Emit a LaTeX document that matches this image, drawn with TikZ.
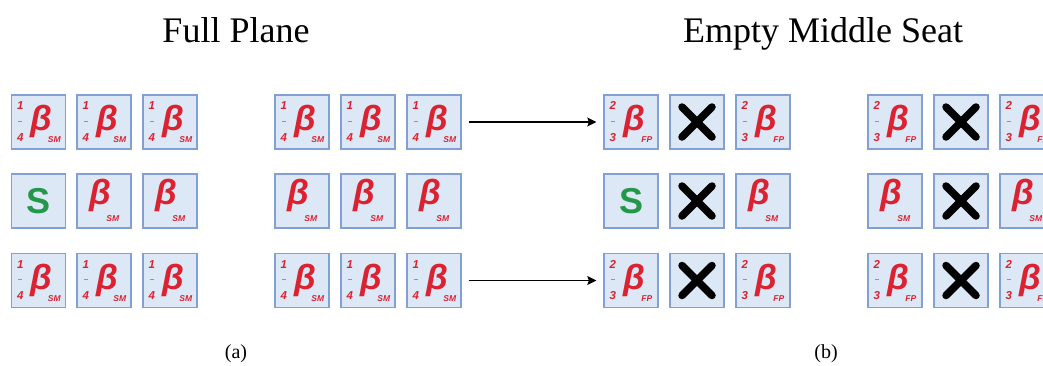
\documentclass[tikz,border=0pt]{standalone}
\usepackage{fontspec}
\setmainfont{Liberation Serif}
\newfontfamily\seatfont{Liberation Sans}
\usetikzlibrary{arrows.meta}

\definecolor{seatfill}{RGB}{220,232,246}
\definecolor{seatline}{RGB}{130,160,210}
\definecolor{betared}{RGB}{220,34,48}
\definecolor{sgreen}{RGB}{34,152,72}
\definecolor{bargrey}{RGB}{150,150,150}

\tikzset{
  seat/.style={draw=seatline, fill=seatfill, line width=1.4pt,
    minimum width=54pt, minimum height=54pt, inner sep=0pt},
  bigbeta/.style={text=betared, inner sep=0pt,
    font=\seatfont\bfseries\itshape\fontsize{35}{35}\selectfont},
  subtag/.style={text=betared, inner sep=0pt,
    font=\seatfont\bfseries\itshape\fontsize{8.5}{8.5}\selectfont},
  digit/.style={text=betared, inner sep=0pt,
    font=\seatfont\bfseries\itshape\fontsize{11.5}{11.5}\selectfont},
  fracbar/.style={draw=bargrey, line width=0.9pt},
  sletter/.style={text=sgreen, inner sep=0pt,
    font=\seatfont\bfseries\fontsize{36}{36}\selectfont},
  crossline/.style={line width=7.5pt, line cap=round, black},
  title/.style={anchor=base, inner sep=0pt, font=\fontsize{36}{36}\selectfont},
  caption/.style={anchor=base, inner sep=0pt, font=\fontsize{20}{20}\selectfont},
  moveto/.style={line width=1.2pt, shorten <=7pt, shorten >=7pt,
    -{Stealth[length=9pt,width=9pt,inset=1.5pt]}},
}

% a seat holding a fraction of beta with its subscript
\newcommand\fracseat[6]{% name, x, y, numerator, denominator, subscript
  \node[seat] (#1) at (#2,#3) {};
  \begin{scope}[shift={(#1.north west)}]
    \node[digit] (#1-n) at (9.5,11.5) {#4};
    \draw[fracbar] (7.5,27) -- (11.5,27);
    \node[digit] (#1-d) at (9.5,43) {#5};
    \node[bigbeta] (#1-b) at (31,27.5) {β};
    \node[subtag] (#1-s) at (43.5,45.5) {#6};
  \end{scope}}
% a seat holding a plain beta
\newcommand\betaseat[3]{%
  \node[seat] (#1) at (#2,#3) {};
  \begin{scope}[shift={(#1.north west)}]
    \node[bigbeta] (#1-b) at (24,22.5) {β};
    \node[subtag] (#1-s) at (36.5,45.5) {SM};
  \end{scope}}
% the seat of the passenger S
\newcommand\sseat[3]{%
  \node[seat] (#1) at (#2,#3) {};
  \node[sletter] (#1-s) at (#1.center) {S};}
% an empty seat
\newcommand\xseat[3]{%
  \node[seat] (#1) at (#2,#3) {};
  \draw[crossline] ([shift={(-15,-15)}]#1.center) -- ([shift={(15,15)}]#1.center);
  \draw[crossline] ([shift={(-15,15)}]#1.center) -- ([shift={(15,-15)}]#1.center);}

\begin{document}
\begin{tikzpicture}[x=1pt, y=-1pt]
  \useasboundingbox (0,0) rectangle (1043,365);
  \clip (0,0) rectangle (1043,365);

  \node[title] (t1) at (236,42) {Full Plane};
  \node[title] (t2) at (823,42) {Empty Middle Seat};
  \node[caption] (ca) at (236,358) {(a)};
  \node[caption] (cb) at (826,358) {(b)};

  % full plane, group A
  \fracseat{a11}{38.5}{122}{1}{4}{SM}
  \fracseat{a12}{104}{122}{1}{4}{SM}
  \fracseat{a13}{170}{122}{1}{4}{SM}
  \sseat{a21}{38.5}{201}
  \betaseat{a22}{104}{201}
  \betaseat{a23}{170}{201}
  \fracseat{a31}{38.5}{280.5}{1}{4}{SM}
  \fracseat{a32}{104}{280.5}{1}{4}{SM}
  \fracseat{a33}{170}{280.5}{1}{4}{SM}

  % full plane, group B
  \fracseat{b11}{302}{122}{1}{4}{SM}
  \fracseat{b12}{368}{122}{1}{4}{SM}
  \fracseat{b13}{434}{122}{1}{4}{SM}
  \betaseat{b21}{302}{201}
  \betaseat{b22}{368}{201}
  \betaseat{b23}{434}{201}
  \fracseat{b31}{302}{280.5}{1}{4}{SM}
  \fracseat{b32}{368}{280.5}{1}{4}{SM}
  \fracseat{b33}{434}{280.5}{1}{4}{SM}

  % empty middle seat, group C
  \fracseat{c11}{631}{122}{2}{3}{FP}
  \xseat{c12}{697}{122}
  \fracseat{c13}{763}{122}{2}{3}{FP}
  \sseat{c21}{631}{201}
  \xseat{c22}{697}{201}
  \betaseat{c23}{763}{201}
  \fracseat{c31}{631}{280.5}{2}{3}{FP}
  \xseat{c32}{697}{280.5}
  \fracseat{c33}{763}{280.5}{2}{3}{FP}

  % empty middle seat, group D
  \fracseat{d11}{895}{122}{2}{3}{FP}
  \xseat{d12}{961}{122}
  \fracseat{d13}{1027}{122}{2}{3}{FP}
  \betaseat{d21}{895}{201}
  \xseat{d22}{961}{201}
  \betaseat{d23}{1027}{201}
  \fracseat{d31}{895}{280.5}{2}{3}{FP}
  \xseat{d32}{961}{280.5}
  \fracseat{d33}{1027}{280.5}{2}{3}{FP}

  \draw[moveto] (b13) -- (c11);
  \draw[moveto] (b33) -- (c31);
\end{tikzpicture}
\end{document}
